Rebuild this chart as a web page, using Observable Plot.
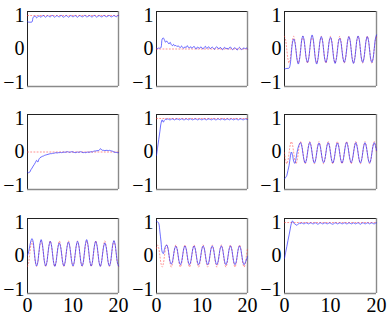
<!DOCTYPE html>
<html><head><meta charset="utf-8">
<script src="https://cdn.jsdelivr.net/npm/d3@7"></script>
<script src="https://cdn.jsdelivr.net/npm/@observablehq/plot@0.6"></script>
<style>
body{margin:0;background:#fff}
#chart{position:relative;width:390px;height:315px;overflow:hidden}
#chart svg{position:absolute}
#chart svg, #chart svg text{font-family:"Liberation Serif", "DejaVu Serif", serif !important;font-variant:normal !important}
</style>
</head><body><div id="chart"></div>
<script>
// sample grid (step 0.25) and tick labels
const t = d3.range(0, 20.001, 0.25);
const tEnds = [0, 20];
const xTicks = [0, 10, 20];
const yTicks = [-1, 0, 1];

// blue (response) series, one per panel, row by row
const blue1 = [0.82,0.80,0.80,0.80,0.81,0.95,0.97,0.98,0.93,0.96,
  0.99,0.97,0.95,0.99,1.00,0.97,0.95,0.98,1.00,0.97,
  0.96,0.99,1.00,0.97,0.95,0.98,1.00,0.97,0.96,0.99,
  1.00,0.96,0.95,0.98,1.00,0.98,0.95,0.97,1.00,0.98,
  0.96,0.98,1.00,0.97,0.95,0.98,1.00,0.98,0.96,0.97,
  1.00,0.99,0.96,0.97,0.99,1.00,0.96,0.96,0.99,1.00,
  0.97,0.95,0.98,1.00,0.98,0.96,0.97,1.00,0.99,0.96,
  0.97,0.99,1.00,0.97,0.96,0.98,1.00,0.98,0.96,0.99,
  1.00];
const blue2 = [0.02,0.01,0.03,0.02,0.05,0.30,0.33,0.27,0.20,0.24,
  0.19,0.15,0.20,0.13,0.10,0.14,0.09,0.11,0.07,0.10,
  0.06,0.04,0.09,0.05,0.02,0.07,0.04,0.10,0.05,0.03,
  0.07,0.02,0.05,0.08,0.03,0.00,0.06,0.04,0.02,0.07,
  0.03,0.00,0.05,0.08,0.02,0.04,0.07,0.01,0.03,0.06,
  0.02,-0.01,0.04,0.07,0.03,0.00,0.05,0.02,-0.02,0.03,
  0.05,0.00,0.03,-0.01,0.04,0.06,0.01,-0.02,0.02,0.04,
  0.00,-0.03,0.02,0.05,0.01,-0.02,0.01,0.04,0.00,0.03,
  0.00];
const blue3 = [-0.58,-0.59,-0.58,-0.58,-0.57,-0.45,-0.10,0.20,0.30,0.20,
  -0.05,-0.33,-0.45,-0.32,-0.04,0.27,0.39,0.27,-0.02,-0.30,
  -0.40,-0.29,-0.01,0.29,0.42,0.29,-0.03,-0.33,-0.45,-0.32,
  -0.03,0.26,0.37,0.26,-0.02,-0.30,-0.40,-0.29,-0.02,0.25,
  0.35,0.24,-0.04,-0.32,-0.43,-0.31,-0.05,0.22,0.32,0.22,
  -0.05,-0.30,-0.40,-0.29,-0.03,0.26,0.37,0.26,-0.03,-0.32,
  -0.43,-0.31,-0.02,0.28,0.39,0.28,-0.02,-0.30,-0.40,-0.29,
  -0.02,0.26,0.37,0.26,-0.03,-0.31,-0.40,-0.29,0.00,0.30,
  0.42];
const blue4 = [-0.60,-0.62,-0.60,-0.53,-0.48,-0.42,-0.37,-0.31,-0.25,-0.30,
  -0.22,-0.17,-0.15,-0.13,-0.12,-0.10,-0.09,-0.08,-0.07,-0.06,
  -0.05,-0.05,-0.04,-0.04,-0.03,-0.02,-0.03,-0.02,-0.02,-0.01,
  -0.02,-0.01,0.00,-0.01,0.00,0.01,0.00,-0.01,0.00,0.01,
  0.00,-0.01,-0.02,-0.01,0.00,-0.01,0.00,0.01,-0.01,-0.02,
  -0.01,-0.02,-0.01,0.00,-0.01,0.00,0.01,0.00,0.02,0.03,
  0.03,0.04,0.04,0.05,0.10,0.07,0.05,0.05,0.04,0.05,
  0.05,0.04,0.05,0.04,0.03,0.02,0.00,-0.01,-0.01,-0.02,
  -0.02];
const blue5 = [-0.10,0.14,0.38,0.62,0.86,0.96,0.89,0.95,0.98,0.97,
  0.99,0.97,0.96,0.98,0.99,0.97,0.96,0.98,0.99,0.98,
  0.96,0.97,0.99,0.98,0.96,0.97,0.99,0.98,0.96,0.98,
  0.99,0.97,0.96,0.98,0.99,0.98,0.96,0.97,0.99,0.97,
  0.96,0.98,0.99,0.97,0.96,0.98,0.99,0.98,0.96,0.97,
  0.99,0.98,0.96,0.97,0.99,0.98,0.96,0.98,0.99,0.97,
  0.96,0.97,0.99,0.98,0.96,0.98,0.99,0.97,0.96,0.98,
  0.99,0.97,0.96,0.98,0.99,0.98,0.96,0.97,0.99,0.98,
  0.97];
const blue6 = [-0.80,-0.76,-0.70,-0.55,-0.40,-0.15,0.00,-0.10,-0.28,-0.34,
  -0.20,0.00,0.15,0.24,0.28,0.18,-0.03,-0.24,-0.33,-0.24,
  -0.03,0.19,0.29,0.19,-0.03,-0.24,-0.33,-0.24,-0.03,0.18,
  0.27,0.18,-0.03,-0.23,-0.32,-0.23,-0.03,0.19,0.28,0.19,
  -0.03,-0.24,-0.33,-0.24,-0.03,0.18,0.27,0.18,-0.03,-0.24,
  -0.33,-0.24,-0.03,0.19,0.29,0.19,-0.03,-0.23,-0.32,-0.23,
  -0.03,0.18,0.28,0.18,-0.03,-0.24,-0.33,-0.24,-0.03,0.19,
  0.28,0.18,-0.03,-0.24,-0.33,-0.24,-0.03,0.18,0.28,0.20,
  0.05];
const blue7 = [0.02,0.12,0.30,0.45,0.52,0.42,0.12,-0.18,-0.30,-0.19,
  0.10,0.37,0.49,0.37,0.09,-0.19,-0.30,-0.19,0.08,0.33,
  0.44,0.33,0.07,-0.20,-0.31,-0.20,0.06,0.29,0.39,0.29,
  0.06,-0.20,-0.30,-0.19,0.07,0.31,0.42,0.31,0.07,-0.19,
  -0.30,-0.19,0.08,0.33,0.44,0.33,0.08,-0.19,-0.30,-0.19,
  0.09,0.37,0.49,0.37,0.09,-0.19,-0.30,-0.19,0.08,0.33,
  0.44,0.33,0.07,-0.20,-0.31,-0.20,0.06,0.29,0.39,0.29,
  0.06,-0.20,-0.30,-0.19,0.08,0.35,0.46,0.35,0.08,-0.19,
  -0.30];
const blue8 = [1.03,1.02,0.97,0.72,0.42,0.12,0.07,0.20,0.30,0.33,
  0.24,0.03,-0.17,-0.24,-0.17,0.03,0.22,0.29,0.22,0.02,
  -0.18,-0.26,-0.18,0.02,0.22,0.30,0.22,0.02,-0.18,-0.26,
  -0.18,0.02,0.22,0.30,0.22,0.02,-0.18,-0.26,-0.18,0.02,
  0.22,0.30,0.22,0.02,-0.18,-0.26,-0.18,0.02,0.22,0.30,
  0.22,0.02,-0.18,-0.26,-0.18,0.02,0.22,0.30,0.22,0.02,
  -0.18,-0.26,-0.18,0.02,0.22,0.30,0.22,0.02,-0.18,-0.26,
  -0.18,0.02,0.22,0.30,0.22,0.02,-0.18,-0.26,-0.20,-0.12,
  -0.02];
const blue9 = [-0.07,0.11,0.28,0.46,0.63,0.81,0.98,1.05,0.98,0.96,
  0.93,0.92,0.96,0.98,0.97,0.99,0.97,0.96,0.98,0.99,
  0.97,0.96,0.98,0.99,0.97,0.96,0.98,0.99,0.97,0.95,
  0.97,0.99,0.98,0.96,0.97,0.99,0.98,0.96,0.97,0.99,
  0.98,0.96,0.95,0.97,0.99,0.98,0.96,0.97,0.99,0.98,
  0.96,0.97,0.99,0.98,0.96,0.97,0.99,0.98,0.96,0.97,
  0.99,0.97,0.96,0.98,0.99,0.97,0.95,0.97,0.99,0.98,
  0.96,0.97,0.99,0.98,0.96,0.98,0.99,0.97,0.96,0.98,
  0.99];

// red dotted (reference) series
const red1 = [1, 1];
const red2 = [0, 0];
const red3 = [0.38,0.26,-0.02,-0.30,-0.42,-0.30,-0.02,0.26,
  0.38,0.26,-0.02,-0.30,-0.42,-0.30,-0.02,0.26,
  0.38,0.26,-0.02,-0.30,-0.42,-0.30,-0.02,0.26,
  0.38,0.26,-0.02,-0.30,-0.42,-0.30,-0.02,0.26,
  0.38,0.26,-0.02,-0.30,-0.42,-0.30,-0.02,0.26,
  0.38,0.26,-0.02,-0.30,-0.42,-0.30,-0.02,0.26,
  0.38,0.26,-0.02,-0.30,-0.42,-0.30,-0.02,0.26,
  0.38,0.26,-0.02,-0.30,-0.42,-0.30,-0.02,0.26,
  0.38,0.26,-0.02,-0.30,-0.42,-0.30,-0.02,0.26,
  0.38,0.26,-0.02,-0.30,-0.42,-0.30,-0.02,0.26,
  0.38];
const red4 = [0, 0];
const red5 = [1, 1];
const red6 = [-0.02,-0.25,-0.35,-0.25,-0.02,0.21,0.31,0.21,
  -0.02,-0.25,-0.35,-0.25,-0.02,0.21,0.31,0.21,
  -0.02,-0.25,-0.35,-0.25,-0.02,0.21,0.31,0.21,
  -0.02,-0.25,-0.35,-0.25,-0.02,0.21,0.31,0.21,
  -0.02,-0.25,-0.35,-0.25,-0.02,0.21,0.31,0.21,
  -0.02,-0.25,-0.35,-0.25,-0.02,0.21,0.31,0.21,
  -0.02,-0.25,-0.35,-0.25,-0.02,0.21,0.31,0.21,
  -0.02,-0.25,-0.35,-0.25,-0.02,0.21,0.31,0.21,
  -0.02,-0.25,-0.35,-0.25,-0.02,0.21,0.31,0.21,
  -0.02,-0.25,-0.35,-0.25,-0.02,0.21,0.31,0.21,
  -0.02];
const red7 = [-0.31,-0.20,0.07,0.33,0.45,0.33,0.07,-0.20,
  -0.31,-0.20,0.07,0.33,0.45,0.33,0.07,-0.20,
  -0.31,-0.20,0.07,0.33,0.45,0.33,0.07,-0.20,
  -0.31,-0.20,0.07,0.33,0.45,0.33,0.07,-0.20,
  -0.31,-0.20,0.07,0.33,0.45,0.33,0.07,-0.20,
  -0.31,-0.20,0.07,0.33,0.45,0.33,0.07,-0.20,
  -0.31,-0.20,0.07,0.33,0.45,0.33,0.07,-0.20,
  -0.31,-0.20,0.07,0.33,0.45,0.33,0.07,-0.20,
  -0.31,-0.20,0.07,0.33,0.45,0.33,0.07,-0.20,
  -0.31,-0.20,0.07,0.33,0.45,0.33,0.07,-0.20,
  -0.31];
const red8 = [0.23,0.33,0.23,0.00,-0.23,-0.33,-0.23,0.00,
  0.23,0.33,0.23,0.00,-0.23,-0.33,-0.23,0.00,
  0.23,0.33,0.23,0.00,-0.23,-0.33,-0.23,0.00,
  0.23,0.33,0.23,0.00,-0.23,-0.33,-0.23,0.00,
  0.23,0.33,0.23,0.00,-0.23,-0.33,-0.23,0.00,
  0.23,0.33,0.23,0.00,-0.23,-0.33,-0.23,0.00,
  0.23,0.33,0.23,0.00,-0.23,-0.33,-0.23,0.00,
  0.23,0.33,0.23,0.00,-0.23,-0.33,-0.23,0.00,
  0.23,0.33,0.23,0.00,-0.23,-0.33,-0.23,0.00,
  0.23,0.33,0.23,0.00,-0.23,-0.33,-0.23,0.00,
  0.23];
const red9 = [1, 1];

const panels = [
  {blue: blue1, red: red1}, {blue: blue2, red: red2}, {blue: blue3, red: red3},
  {blue: blue4, red: red4}, {blue: blue5, red: red5}, {blue: blue6, red: red6},
  {blue: blue7, red: red7}, {blue: blue8, red: red8}, {blue: blue9, red: red9}
];

const cols = [{left: 0, w: 129, ml: 27, mr: 11}, {left: 129, w: 129, ml: 27, mr: 11}, {left: 258, w: 132, ml: 26, mr: 14}];
const rows = [{top: 0, h: 103, mb: 17}, {top: 103, h: 104, mb: 18}, {top: 207, h: 108, mb: 22}];
const yDom = [-1.12, 1.12];
const xDom = [0, 20];

const root = document.getElementById("chart");
panels.forEach((p, k) => {
  const r = Math.floor(k / 3), c = k % 3;
  const col = cols[c], row = rows[r];
  const redX = p.red.length === 2 ? tEnds : t;
  const svg = Plot.plot({
    width: col.w, height: row.h,
    marginLeft: col.ml, marginRight: col.mr, marginTop: 11, marginBottom: row.mb,
    style: {fontFamily: "Liberation Serif, serif", fontSize: "20px", background: "transparent", color: "#000", overflow: "visible"},
    x: {domain: xDom, ticks: xTicks, tickFormat: "d", tickSize: 0, tickPadding: 4, label: null, axis: r === 2 ? "bottom" : null},
    y: {domain: yDom, ticks: yTicks, tickFormat: "d", tickSize: 0, tickPadding: 3, label: null},
    marks: [
      Plot.ruleY([yDom[1]], {stroke: "#222", strokeWidth: 1}),
      Plot.ruleX([xDom[0]], {stroke: "#222", strokeWidth: 1}),
      Plot.ruleY([yDom[0]], {stroke: "#8a8a8a", strokeWidth: 1.4}),
      Plot.ruleX([xDom[1]], {stroke: "#8a8a8a", strokeWidth: 1.4}),
      Plot.line(p.red, {x: redX, y: p.red, stroke: "#ff3030", strokeOpacity: 0.6, strokeWidth: 0.9, strokeDasharray: "1,2.2", curve: "catmull-rom"}),
      Plot.line(p.blue, {x: t, y: p.blue, stroke: "#1a1aff", strokeOpacity: 0.8, strokeWidth: 0.8, curve: "catmull-rom"})
    ]
  });
  svg.style.left = col.left + "px";
  svg.style.top = row.top + "px";
  root.appendChild(svg);
});
</script>
</body></html>
